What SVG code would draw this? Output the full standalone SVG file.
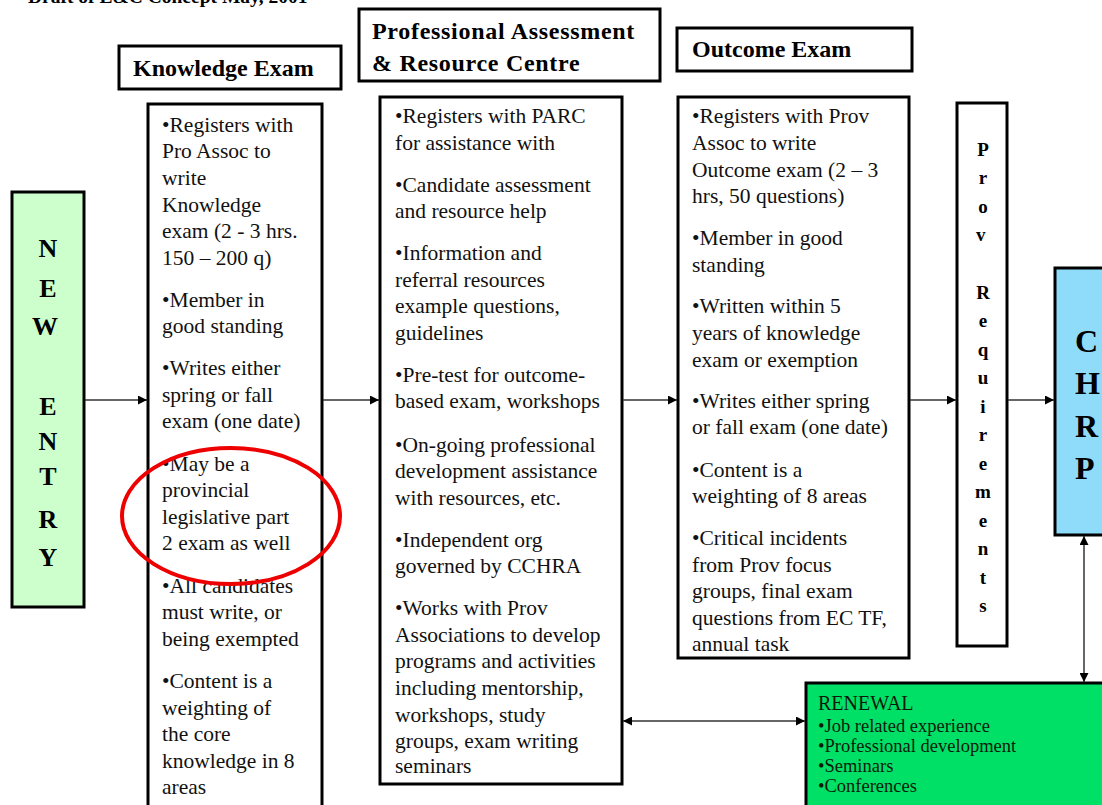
<svg xmlns="http://www.w3.org/2000/svg" width="1102" height="805" viewBox="0 0 1102 805">
<style>
.box{fill:#fff;stroke:#000;stroke-width:3}
.hdr{font-family:"Liberation Serif","Times New Roman",serif;font-weight:bold;font-size:24px;fill:#000}
.body{font-family:"Liberation Serif","Times New Roman",serif;font-size:21.5px;fill:#111}
.vert{font-family:"Liberation Serif","Times New Roman",serif;font-weight:bold;fill:#000;text-anchor:middle}
.conn{stroke:#333;stroke-width:1.5;fill:none}
.ren{font-family:"Liberation Serif","Times New Roman",serif;fill:#0a1a0a}
</style>
<defs>
<marker id="ah" viewBox="0 0 10 10" refX="10" refY="5" markerWidth="10" markerHeight="9" markerUnits="userSpaceOnUse" orient="auto-start-reverse">
<path d="M0,0 L10,5 L0,10 z" fill="#000"/>
</marker>
</defs>
<rect width="1102" height="805" fill="#fff"/>
<text x="28" y="3" class="hdr" style="font-size:19.5px">Draft of E&amp;C Concept May, 2001</text>

<g id="new-entry">
<rect x="12" y="192" width="72" height="415" fill="#ccffcc" stroke="#000" stroke-width="3"/>
<text class="vert" style="font-size:26px">
<tspan x="48" y="257">N</tspan><tspan x="48" y="297">E</tspan><tspan x="48" y="335">W</tspan>
<tspan x="48" y="415">E</tspan><tspan x="48" y="450">N</tspan><tspan x="48" y="485">T</tspan><tspan x="48" y="528">R</tspan><tspan x="48" y="566">Y</tspan>
</text>
</g>

<g id="knowledge-header">
<rect class="box" x="119" y="46" width="222" height="43"/>
<text class="hdr" x="133" y="76">Knowledge Exam</text>
</g>

<g id="knowledge">
<rect class="box" x="148" y="104" width="174" height="710"/>
<text class="body">
<tspan x="162" y="132">•Registers with</tspan>
<tspan x="162" y="158">Pro Assoc to</tspan>
<tspan x="162" y="185">write</tspan>
<tspan x="162" y="212">Knowledge</tspan>
<tspan x="162" y="238">exam  (2 - 3 hrs.</tspan>
<tspan x="162" y="265">150 – 200 q)</tspan>
<tspan x="162" y="307">•Member  in</tspan>
<tspan x="162" y="333">good standing</tspan>
<tspan x="162" y="375">•Writes either</tspan>
<tspan x="162" y="402">spring or fall</tspan>
<tspan x="162" y="428">exam (one date)</tspan>
<tspan x="162" y="471">•May  be a</tspan>
<tspan x="162" y="497">provincial</tspan>
<tspan x="162" y="524">legislative part</tspan>
<tspan x="162" y="550">2 exam  as well</tspan>
<tspan x="162" y="593">•All candidates</tspan>
<tspan x="162" y="619">must  write, or</tspan>
<tspan x="162" y="646">being  exempted</tspan>
<tspan x="162" y="688">•Content  is a</tspan>
<tspan x="162" y="715">weighting  of</tspan>
<tspan x="162" y="741">the  core</tspan>
<tspan x="162" y="768">knowledge  in 8</tspan>
<tspan x="162" y="794">areas</tspan>
</text>
</g>

<g id="highlight">
<ellipse cx="231" cy="516" rx="109" ry="68" fill="none" stroke="#ee0000" stroke-width="4"/>
</g>

<g id="parc-header">
<rect class="box" x="359" y="9" width="301" height="72"/>
<text class="hdr" style="letter-spacing:0.7px"><tspan x="372" y="39">Professional Assessment</tspan><tspan x="372" y="71">&amp; Resource Centre</tspan></text>
</g>

<g id="parc">
<rect class="box" x="380" y="97" width="242" height="687"/>
<text class="body">
<tspan x="395" y="123">•Registers with PARC</tspan>
<tspan x="395" y="150">for assistance with</tspan>
<tspan x="395" y="192">•Candidate assessment</tspan>
<tspan x="395" y="218">and resource help</tspan>
<tspan x="395" y="260">•Information  and</tspan>
<tspan x="395" y="287">referral resources</tspan>
<tspan x="395" y="313">example  questions,</tspan>
<tspan x="395" y="340">guidelines</tspan>
<tspan x="395" y="382">•Pre-test for outcome-</tspan>
<tspan x="395" y="408">based exam,  workshops</tspan>
<tspan x="395" y="452">•On-going  professional</tspan>
<tspan x="395" y="478">development  assistance</tspan>
<tspan x="395" y="505">with resources, etc.</tspan>
<tspan x="395" y="547">•Independent  org</tspan>
<tspan x="395" y="573">governed by CCHRA</tspan>
<tspan x="395" y="615">•Works with Prov</tspan>
<tspan x="395" y="642">Associations to develop</tspan>
<tspan x="395" y="668">programs and activities</tspan>
<tspan x="395" y="695">including  mentorship,</tspan>
<tspan x="395" y="722">workshops, study</tspan>
<tspan x="395" y="748">groups, exam  writing</tspan>
<tspan x="395" y="773">seminars</tspan>
</text>
</g>

<g id="outcome-header">
<rect class="box" x="677" y="28" width="235" height="43"/>
<text class="hdr" x="692" y="57">Outcome Exam</text>
</g>

<g id="outcome">
<rect class="box" x="678" y="97" width="231" height="561"/>
<text class="body">
<tspan x="692" y="123">•Registers with Prov</tspan>
<tspan x="692" y="150">Assoc to write</tspan>
<tspan x="692" y="177">Outcome  exam  (2 – 3</tspan>
<tspan x="692" y="203">hrs, 50 questions)</tspan>
<tspan x="692" y="245">•Member  in good</tspan>
<tspan x="692" y="272">standing</tspan>
<tspan x="692" y="313">•Written  within 5</tspan>
<tspan x="692" y="340">years of knowledge</tspan>
<tspan x="692" y="367">exam  or exemption</tspan>
<tspan x="692" y="408">•Writes either spring</tspan>
<tspan x="692" y="434">or fall exam (one date)</tspan>
<tspan x="692" y="477">•Content  is a</tspan>
<tspan x="692" y="503">weighting  of 8 areas</tspan>
<tspan x="692" y="545">•Critical incidents</tspan>
<tspan x="692" y="572">from Prov focus</tspan>
<tspan x="692" y="598">groups, final exam</tspan>
<tspan x="692" y="625">questions  from EC TF,</tspan>
<tspan x="692" y="651">annual  task</tspan>
</text>
</g>

<g id="prov-requirements">
<rect class="box" x="957" y="103" width="50" height="543"/>
<text class="vert" style="font-size:19px">
<tspan x="983" y="156">P</tspan><tspan x="983" y="184">r</tspan><tspan x="983" y="213">o</tspan><tspan x="983" y="241">v</tspan>
<tspan x="983" y="299">R</tspan><tspan x="983" y="327">e</tspan><tspan x="983" y="356">q</tspan><tspan x="983" y="384">u</tspan><tspan x="983" y="413">i</tspan><tspan x="983" y="441">r</tspan><tspan x="983" y="470">e</tspan><tspan x="983" y="498">m</tspan><tspan x="983" y="527">e</tspan><tspan x="983" y="555">n</tspan><tspan x="983" y="584">t</tspan><tspan x="983" y="612">s</tspan>
</text>
</g>

<g id="chrp">
<rect x="1055" y="268" width="60" height="267" fill="#8fdcfa" stroke="#000" stroke-width="3"/>
<text class="vert" style="font-size:32px;text-anchor:start">
<tspan x="1075" y="352">C</tspan><tspan x="1075" y="394">H</tspan><tspan x="1075" y="437">R</tspan><tspan x="1075" y="479">P</tspan>
</text>
</g>

<g id="renewal">
<rect x="806" y="683" width="310" height="130" fill="#00e066" stroke="#000" stroke-width="3"/>
<text class="ren" x="818" y="710" style="font-size:20px">RENEWAL</text>
<text class="ren" style="font-size:18.5px">
<tspan x="818" y="732">•Job related experience</tspan>
<tspan x="818" y="752">•Professional development</tspan>
<tspan x="818" y="772">•Seminars</tspan>
<tspan x="818" y="792">•Conferences</tspan>
</text>
</g>

<g id="connectors">
<line class="conn" x1="85" y1="400" x2="147" y2="400" marker-end="url(#ah)"/>
<line class="conn" x1="323" y1="400" x2="379" y2="400" marker-end="url(#ah)"/>
<line class="conn" x1="623" y1="400" x2="677" y2="400" marker-end="url(#ah)"/>
<line class="conn" x1="910" y1="400" x2="956" y2="400" marker-end="url(#ah)"/>
<line class="conn" x1="1008" y1="400" x2="1054" y2="400" marker-end="url(#ah)"/>
<line class="conn" x1="623" y1="721" x2="805" y2="721" marker-start="url(#ah)" marker-end="url(#ah)"/>
<line class="conn" x1="1084" y1="536" x2="1084" y2="682" marker-start="url(#ah)" marker-end="url(#ah)"/>
</g>
</svg>
